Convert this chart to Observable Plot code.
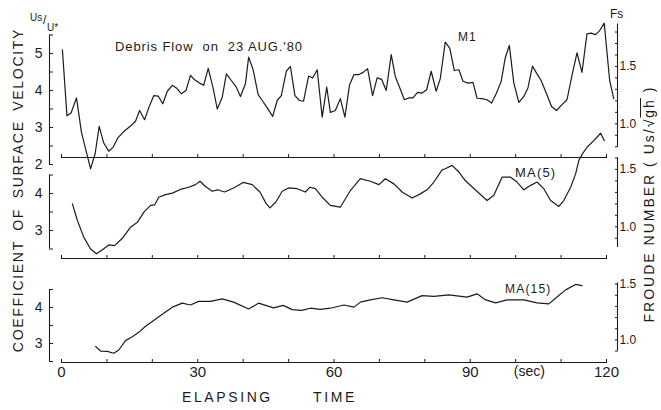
<!DOCTYPE html>
<html><head><meta charset="utf-8">
<script src="https://cdn.jsdelivr.net/npm/d3@7"></script>
<script src="https://cdn.jsdelivr.net/npm/@observablehq/plot@0.6"></script>
<style>
html,body{margin:0;padding:0;background:#fff;}
#wrap{position:relative;width:661px;height:410px;overflow:hidden;font-family:"Liberation Sans",Arial,sans-serif;color:#1c1c1c;}
#wrap svg{position:absolute;left:0;top:0;background:transparent;overflow:visible;font-family:"Liberation Sans",Arial,sans-serif;}
.t{position:absolute;white-space:pre;line-height:1;}
.rot{position:absolute;white-space:pre;line-height:1;transform:translate(-50%,-50%) rotate(-90deg);}
</style></head><body><div id="wrap"></div>
<script>
// ---- data ----
const xTicks = [0,10,20,30,40,50,60,70,80,90,100,110,120];
const xLabels = [0,30,60,90,120];
const unitLabel = [{t:103, text:"(sec)"}];
const fsRatio = 3.1; // Us/U* per unit of Froude number Fs
const fsLabeled = [1.0, 1.5];

const m1Time = [0.2,1.2,2.1,3.3,4.4,5.5,6.4,7.4,8.3,9.3,
  10.4,11.4,12.4,13.7,15.2,16.3,17.2,18.3,19.2,
  20.3,21.3,22.3,23.3,24.4,25.3,26.4,27.4,28.4,29.3,
  30.4,31.3,32.3,33.3,34.3,35.4,36.3,37.4,38.5,39.4,
  40.5,41.2,42.2,43.3,44.2,45.3,46.5,47.5,48.4,49.5,
  50.4,51.4,52.4,53.3,54.4,55.3,56.3,57.4,58.4,59.2,
  60.3,61.4,62.4,63.4,64.4,65.5,66.4,67.4,68.5,69.5,
  70.5,71.5,72.6,73.5,74.5,75.5,76.5,77.4,78.4,79.4,
  80.4,81.4,82.5,83.4,84.5,85.5,86.5,87.5,88.4,89.5,
  90.6,91.5,92.6,93.7,94.7,95.7,96.8,97.7,98.6,99.6,
  100.7,101.8,102.7,103.7,104.6,105.6,106.8,107.9,109.0,
  110.2,111.3,112.4,113.5,114.6,115.7,116.6,117.6,118.5,119.5,
  120.7,121.6];
const m1Value = [5.10,3.32,3.39,3.80,2.87,2.33,1.88,2.29,3.03,2.58,
  2.36,2.47,2.72,2.89,3.04,3.17,3.46,3.21,3.53,
  3.86,3.85,3.64,3.98,4.14,4.07,3.91,4.00,4.41,4.29,
  4.20,4.14,4.60,4.11,3.50,3.82,4.45,4.27,4.09,3.84,
  4.18,4.90,4.56,3.89,3.73,3.53,3.30,3.73,3.86,4.52,
  4.65,3.86,3.73,3.71,4.39,4.34,4.56,3.28,4.09,3.41,
  3.46,3.78,3.28,4.14,4.43,4.43,4.49,4.59,3.86,4.34,
  4.30,4.00,4.97,4.38,4.07,3.75,3.80,3.80,3.95,3.93,
  4.02,4.52,3.98,4.32,5.31,5.14,4.54,4.56,4.25,4.20,
  4.22,3.79,3.78,3.75,3.66,3.91,4.24,4.88,5.22,4.20,
  3.68,3.84,4.07,4.66,4.47,4.27,3.91,3.57,3.46,
  3.62,3.75,4.41,5.02,4.49,5.53,5.55,5.51,5.62,5.82,
  4.27,3.78];

const ma5Time = [2.4,3.5,4.9,6.4,7.7,9.0,10.4,11.7,13.4,15.2,16.7,18.1,19.6,20.5,21.4,22.9,24.4,26.2,28.0,29.5,
  30.5,31.7,33.2,34.4,35.9,37.9,40.0,42.0,43.7,45.0,45.9,47.2,48.6,50.0,51.9,53.7,54.7,55.9,57.4,59.2,
  61.4,63.6,65.8,68.0,69.9,71.3,73.2,75.0,77.2,79.0,80.5,82.0,83.8,84.5,86.0,87.5,88.9,
  91.1,93.7,95.2,97.0,98.9,100.3,101.8,103.3,104.7,106.2,107.7,109.5,110.6,112.1,113.2,113.9,114.6,
  115.7,117.2,117.9,118.7,119.5];
const ma5Value = [3.72,3.27,2.82,2.50,2.37,2.48,2.61,2.59,2.79,3.09,3.22,3.49,3.68,3.69,3.90,3.97,4.01,4.11,4.17,4.24,
  4.33,4.19,4.06,4.10,4.04,4.15,4.30,4.24,4.04,3.74,3.61,3.77,4.06,4.15,4.13,4.04,4.17,4.13,3.90,3.68,
  3.63,4.08,4.40,4.33,4.24,4.40,4.26,4.04,3.88,3.99,4.10,4.31,4.64,4.67,4.76,4.58,4.35,
  4.10,3.81,3.95,4.44,4.44,4.31,4.10,4.22,4.31,4.13,3.81,3.65,3.81,4.17,4.53,4.89,5.05,
  5.25,5.43,5.52,5.63,5.43];

const ma15Time = [7.5,8.6,10.1,11.5,12.6,14.1,15.6,17.0,18.5,20.3,22.5,24.4,26.6,28.4,30.2,32.8,35.4,37.9,
  41.2,43.4,46.7,48.8,50.8,52.9,54.8,57.0,59.2,62.2,64.4,65.8,68.0,70.6,73.2,76.1,79.4,82.0,85.3,
  89.3,91.5,93.4,95.6,98.1,101.8,104.7,107.3,109.1,111.0,113.2,114.6];
const ma15Value = [2.92,2.79,2.78,2.73,2.82,3.08,3.19,3.31,3.48,3.64,3.84,4.01,4.12,4.07,4.17,4.17,4.24,4.15,
  3.96,4.12,3.99,4.06,3.94,3.92,3.98,3.95,3.98,4.07,4.01,4.15,4.21,4.27,4.21,4.15,4.33,4.31,4.35,
  4.29,4.38,4.21,4.13,4.21,4.21,4.13,4.10,4.29,4.49,4.64,4.61];

const leftTicksTop = [2,2.5,3,3.5,4,4.5,5,5.5];
const leftTicksLow = [2.5,3,3.5,4,4.5];
const fsTicksTop = [0.8,0.9,1.0,1.1,1.2,1.3,1.4,1.5,1.6,1.7,1.8];
const fsTicksMid = [0.9,1.0,1.1,1.2,1.3,1.4,1.5,1.6];
const fsTicksLow = [0.9,1.0,1.1,1.2,1.3,1.4,1.5];

// ---- layout ----
const INK = "#1c1c1c";
const W = 661, H = 410;
const panels = [
  {time:m1Time, value:m1Value, yDomain:[2,5.5], yRange:[164,34.5], base:157, leftTicks:leftTicksTop, fsTicks:fsTicksTop, fsSpan:[0.8,1.87], labels:false},
  {time:ma5Time, value:ma5Value, yDomain:[2.5,4.5], yRange:[248.5,174.5], base:258, leftTicks:leftTicksLow, fsTicks:fsTicksMid, fsSpan:[0.82,1.6], labels:false},
  {time:ma15Time, value:ma15Value, yDomain:[2.5,4.5], yRange:[361,289], base:362, leftTicks:leftTicksLow, fsTicks:fsTicksLow, fsSpan:[0.9,1.51], labels:true}
];

const wrap = document.getElementById("wrap");
for (const p of panels) {
  const data = p.time.map((t,i)=>({t, v:p.value[i]}));
  const marks = [
    Plot.frame({anchor:"bottom", stroke:INK, strokeWidth:1.1}),
    Plot.axisX(xTicks, {anchor:"bottom", tickSize:3, dy:-3, tickFormat:()=>"", label:null, stroke:INK}),
    Plot.ruleX([{x:0, y1:p.yDomain[0], y2:p.yDomain[1]}], {x:"x", y1:"y1", y2:"y2", dx:-12, stroke:INK, strokeWidth:1.1}),
    Plot.axisY(p.leftTicks, {anchor:"left", tickSize:4, dx:-8, tickPadding:7, fontSize:14, fill:INK, stroke:INK, label:null,
      tickFormat:d => Number.isInteger(d) ? String(d) : ""}),
    Plot.ruleX([{x:120, y1:p.fsSpan[0]*fsRatio, y2:p.fsSpan[1]*fsRatio}], {x:"x", y1:"y1", y2:"y2", dx:11, stroke:INK, strokeWidth:1.1}),
    Plot.axisY(p.fsTicks.map(f=>f*fsRatio), {anchor:"right", tickSize:3, dx:8, tickPadding:2, fontSize:12, fill:INK, stroke:INK, label:null,
      tickFormat:d => { const f = Math.round(d/fsRatio*10)/10; return fsLabeled.includes(f) ? f.toFixed(1) : ""; }}),
    Plot.line(data, {x:"t", y:"v", stroke:INK, strokeWidth:1.2})
  ];
  if (p.labels) {
    marks.push(Plot.axisX(xLabels, {anchor:"bottom", tickSize:0, tickPadding:4, fontSize:15, fill:INK, label:null}));
    marks.push(Plot.text(unitLabel, {x:"t", text:"text", frameAnchor:"bottom", lineAnchor:"top", dy:4, fontSize:14, fill:INK}));
  }
  const svg = Plot.plot({
    width:W, height:H,
    marginLeft:61, marginRight:55, marginTop:10, marginBottom:H - p.base,
    x:{domain:[0,120], label:null},
    y:{domain:p.yDomain, range:p.yRange, label:null},
    marks
  });
  wrap.appendChild(svg);
}

// ---- annotation text ----
function label(html, x, capTop, size, extra="") {
  const d = document.createElement("div");
  d.className = "t";
  d.style.cssText = `left:${x}px;top:${capTop - 0.13*size}px;font-size:${size}px;${extra}`;
  d.innerHTML = html;
  wrap.appendChild(d);
}
function rotated(html, cx, cy, size, extra="") {
  const d = document.createElement("div");
  d.className = "rot";
  d.style.cssText = `left:${cx}px;top:${cy}px;font-size:${size}px;${extra}`;
  d.innerHTML = html;
  wrap.appendChild(d);
}
label("Debris Flow  on  23 AUG.'80", 115, 42, 13, "letter-spacing:0.9px;");
label("M1", 458, 33, 12, "letter-spacing:1px;");
label("MA(5)", 515, 168, 13, "letter-spacing:1.2px;");
label("MA(15)", 505, 285, 12, "letter-spacing:1.2px;");
label("Fs", 610, 10, 12);
label("Us", 30, 14, 10);
label("/", 43, 16, 12);
label("U*", 47, 24, 10);
label("ELAPSING", 182, 392, 14, "letter-spacing:2.6px;");
label("TIME", 313, 392, 14, "letter-spacing:2.6px;");
rotated("COEFFICIENT OF SURFACE VELOCITY", 18, 190, 14, "letter-spacing:1.7px;word-spacing:4px;");
rotated("FROUDE NUMBER ( Us/√<span style=\"text-decoration:overline\">gh</span> )", 649, 204, 14, "letter-spacing:2px;");
</script></body></html>
